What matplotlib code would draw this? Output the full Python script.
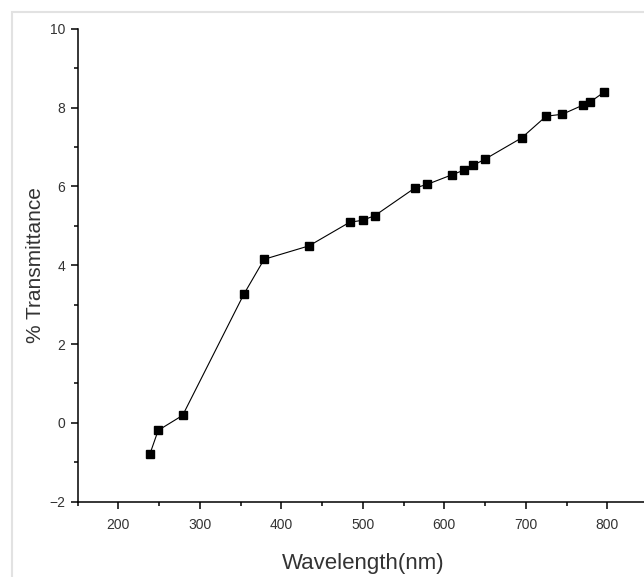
import matplotlib
matplotlib.use("Agg")
import matplotlib.pyplot as plt
from matplotlib.patches import Rectangle
from matplotlib.ticker import MultipleLocator

# valeurs
wavelength = [239, 249, 279, 354, 379, 434, 484, 500, 515, 564, 579,
              609, 624, 635, 650, 695, 725, 745, 770, 779, 796]
transmittance = [-0.78, -0.19, 0.19, 3.26, 4.15, 4.49, 5.09, 5.14, 5.26, 5.96, 6.05,
                 6.29, 6.41, 6.53, 6.69, 7.23, 7.78, 7.83, 8.06, 8.14, 8.39]

x_ticks = [200, 300, 400, 500, 600, 700, 800]
y_ticks = [-2, 0, 2, 4, 6, 8, 10]

plt.rcParams['font.family'] = ['Liberation Sans', 'DejaVu Sans']

W, H = 644, 577
fig = plt.figure(figsize=(W / 100, H / 100), dpi=100)

# cadre gris clair autour du graphique
fig.patches.append(Rectangle((12 / W, -0.05), 1.1, (H - 12) / H + 0.05,
                             transform=fig.transFigure, fill=False,
                             edgecolor='#e2e2e2', lw=1.5))

ax = fig.add_axes([77.5 / W, (H - 501.7) / H, (648 - 77.5) / W, (501.7 - 28.7) / H])
ax.plot(wavelength, transmittance, color='black', lw=0.8,
        marker='s', ms=5.5, mfc='black', mec='black')

ax.set_xlim(150, 850)
ax.set_ylim(-2, 10)
ax.set_xticks(x_ticks)
ax.set_yticks(y_ticks)
ax.xaxis.set_minor_locator(MultipleLocator(50))
ax.yaxis.set_minor_locator(MultipleLocator(1))

for side in ['top', 'right']:
    ax.spines[side].set_visible(False)
for side in ['left', 'bottom']:
    ax.spines[side].set_linewidth(1.1)

ax.tick_params(which='major', direction='out', length=5, width=1.1,
               labelsize=10, labelcolor='#333333', pad=4)
ax.tick_params(which='minor', direction='out', length=3, width=1.1)
ax.tick_params(axis='x', pad=7)

ax.set_xlabel('Wavelength(nm)', fontsize=16, color='#333333', labelpad=15)
ax.set_ylabel('% Transmittance', fontsize=15, color='#333333', labelpad=3)

fig.savefig('out.png', dpi=100)
